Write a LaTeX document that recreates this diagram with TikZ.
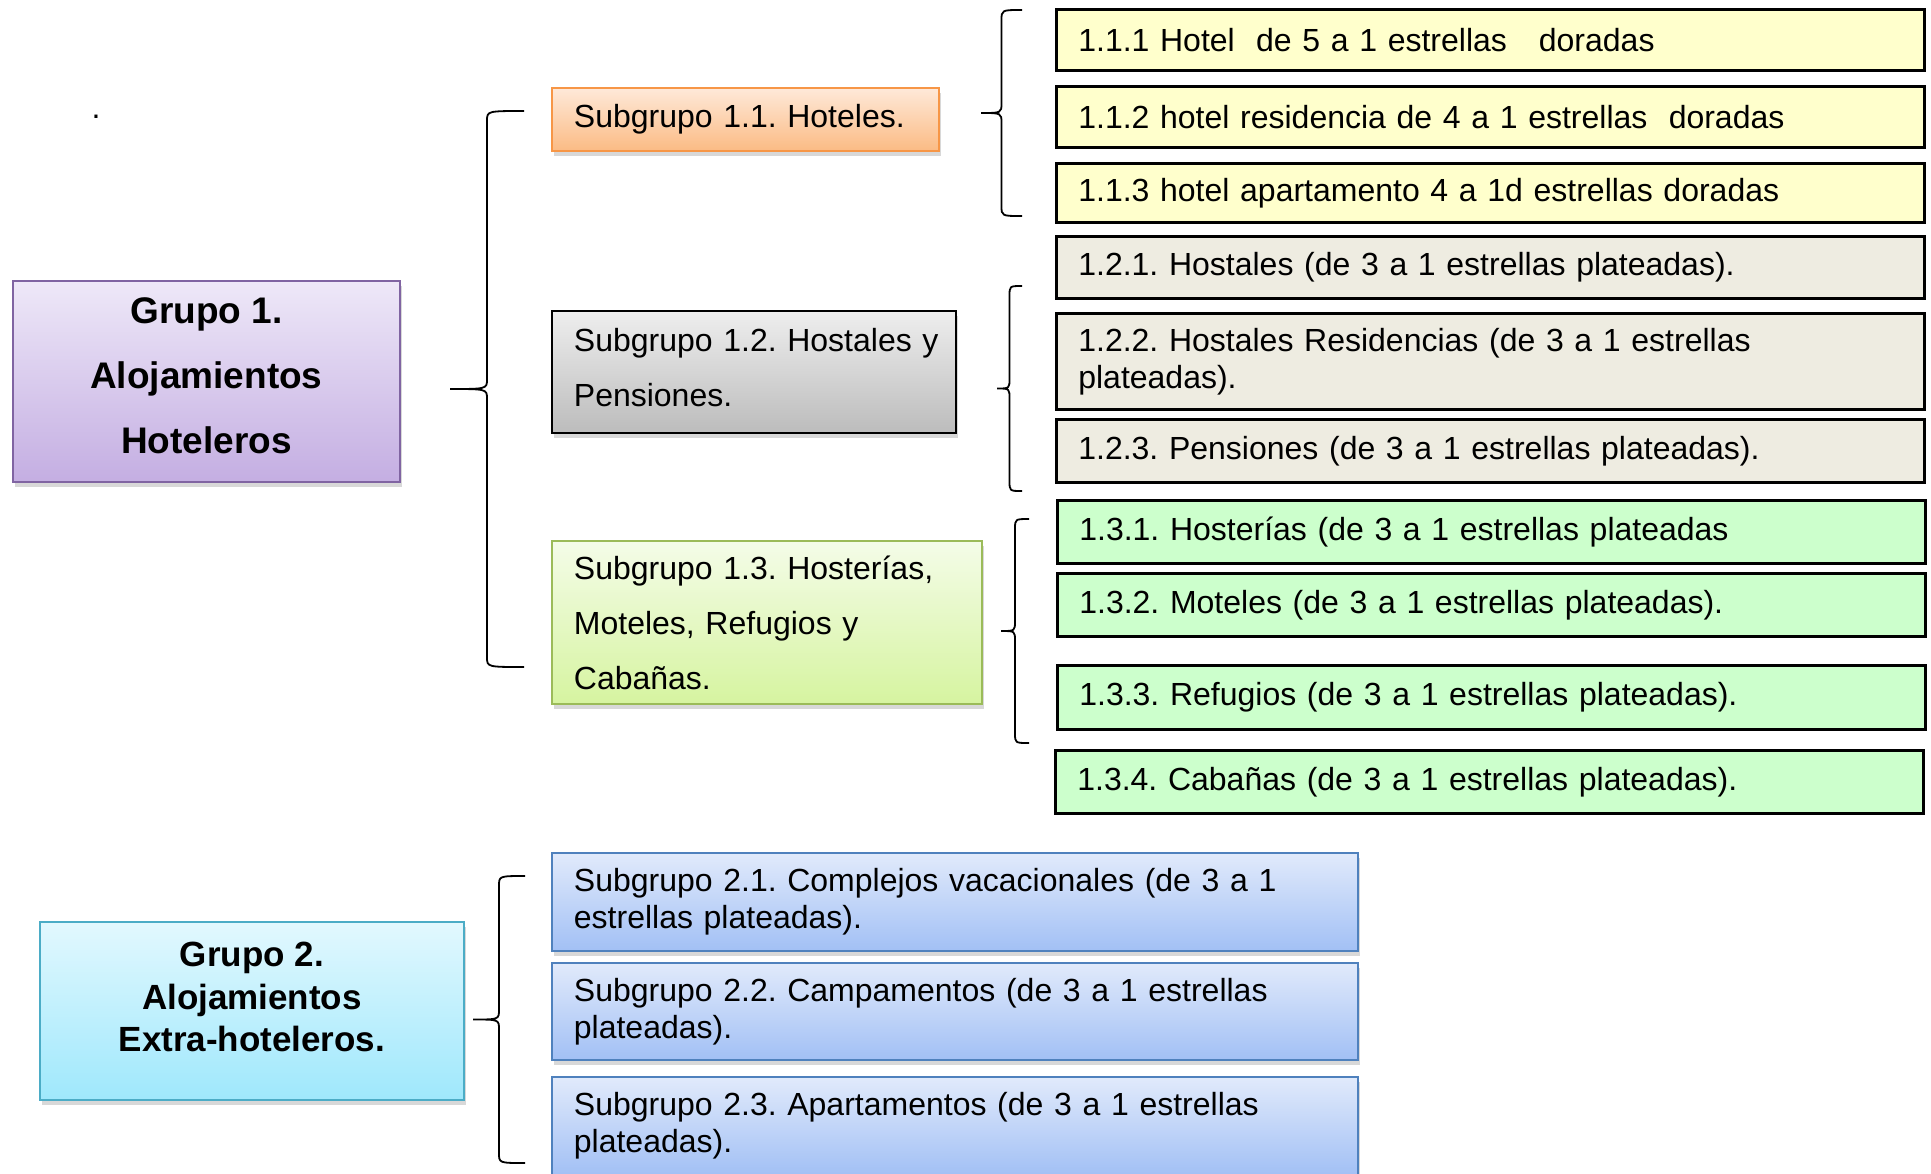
\documentclass[tikz,border=0pt]{standalone}
\usepackage{fontspec}
\setmainfont{Liberation Sans}
\frenchspacing
\usetikzlibrary{positioning,shadows,calc}

%colours
\definecolor{lilatop}{HTML}{EEE8F8}
\definecolor{lilabot}{HTML}{C4AEE2}
\definecolor{lilaline}{HTML}{8064A2}
\definecolor{naranjatop}{HTML}{FEE9D9}
\definecolor{naranjabot}{HTML}{FBBB84}
\definecolor{naranjaline}{HTML}{F79646}
\definecolor{gristop}{HTML}{EEEEEE}
\definecolor{grisbot}{HTML}{BCBCBC}
\definecolor{verdetop}{HTML}{F4FCE8}
\definecolor{verdebot}{HTML}{D6F4A0}
\definecolor{verdeline}{HTML}{9BBB59}
\definecolor{celestetop}{HTML}{E2F8FE}
\definecolor{celestebot}{HTML}{9FE8FC}
\definecolor{celesteline}{HTML}{4BACC6}
\definecolor{azultop}{HTML}{E1EAFB}
\definecolor{azulbot}{HTML}{A2C0F5}
\definecolor{azulline}{HTML}{4F81BD}
\definecolor{amarillo}{HTML}{FFFFCC}
\definecolor{beige}{HTML}{EEECE1}
\definecolor{verdeclaro}{HTML}{CCFFCC}

\tikzset{
    %Define style for group boxes
    grupo/.style={
           rectangle,
           anchor=north west,
           align=center,
           line width=0.9pt,
           font=\bfseries\fontsize{18.5}{32.5}\selectfont,
           drop shadow={shadow xshift=0.8pt, shadow yshift=-2.5pt, opacity=0.3}},
    %Define style for subgroup boxes
    subgrupo/.style={
           rectangle,
           anchor=north west,
           align=left,
           inner xsep=11pt,
           line width=0.9pt,
           font=\fontsize{16}{18.5}\selectfont,
           drop shadow={shadow xshift=0.8pt, shadow yshift=-2.5pt, opacity=0.3}},
    %Define style for the boxes on the right
    hoja/.style={
           rectangle,
           anchor=north west,
           align=left,
           draw=black,
           inner xsep=11pt,
           line width=1.3pt,
           text width=412pt,
           font=\fontsize{16}{18.5}\selectfont},
    % Define brace style (drawn from top end to bottom end, #1 = depth)
    llave/.style={
           line width=0.9pt,
           to path={let \p1=(\tikztostart), \p2=(\tikztotarget),
                    \p3=($(\tikztostart)!0.5!(\tikztotarget)$) in
                    .. controls ({\x1-#1/2},\y1) .. ({\x1-#1/2},{\y1-5pt})
                    -- ({\x1-#1/2},{\y3+5pt})
                    .. controls ({\x1-#1/2},\y3) .. ({\x1-#1},\y3)
                    .. controls ({\x1-#1/2},\y3) .. ({\x1-#1/2},{\y3-5pt})
                    -- ({\x1-#1/2},{\y2+5pt})
                    .. controls ({\x1-#1/2},\y2) .. (\tikztotarget)}}
}

\begin{document}
\begin{tikzpicture}[x=0.5pt, y=-0.5pt]
 \path[use as bounding box, fill=white] (0,0) rectangle (1931,1173);
 \clip (0,0) rectangle (1931,1173);
 %nodes
    \node[font=\fontsize{16}{18}\selectfont] (punto) at (96,117) {.};
    \node[grupo, draw=lilaline, top color=lilatop, bottom color=lilabot,
          minimum width=193.5pt, minimum height=100.5pt] (g1) at (12,280)
          {Grupo 1.\\Alojamientos\\Hoteleros\\[-26.5pt]\mbox{}};
    \node[grupo, draw=celesteline, top color=celestetop, bottom color=celestebot,
          font=\bfseries\fontsize{17.5}{21.3}\selectfont,
          minimum width=212pt, minimum height=89pt] (g2) at (39,921)
          {Grupo 2.\\Alojamientos\\Extra-hoteleros.\\[-7.3pt]\mbox{}};

    \node[subgrupo, draw=naranjaline, top color=naranjatop, bottom color=naranjabot,
          text width=171.5pt, minimum height=31.5pt] (s11) at (551,87)
          {Subgrupo 1.1. Hoteles.};
    \node[subgrupo, draw=black, top color=gristop, bottom color=grisbot,
          font=\fontsize{16}{27.5}\selectfont,
          text width=180pt, minimum height=61pt] (s12) at (551,310)
          {\mbox{Subgrupo 1.2. Hostales y}\\Pensiones.\\[-23pt]\mbox{}};
    \node[subgrupo, draw=verdeline, top color=verdetop, bottom color=verdebot,
          font=\fontsize{16}{27.5}\selectfont,
          text width=193pt, minimum height=81.5pt] (s13) at (551,540)
          {Subgrupo 1.3. Hosterías,\\Moteles, Refugios y\\Cabañas.};

    \node[hoja, fill=amarillo, minimum height=30.5pt] (h111) at (1055,8)
          {1.1.1 Hotel\ \ de 5 a 1 estrellas\ \ \ doradas};
    \node[hoja, fill=amarillo, minimum height=30.5pt] (h112) at (1055,85)
          {1.1.2 hotel residencia de 4 a 1 estrellas\ \ doradas};
    \node[hoja, fill=amarillo, minimum height=29.5pt] (h113) at (1055,162)
          {1.1.3 hotel apartamento 4 a 1d estrellas doradas};
    \node[hoja, fill=beige, minimum height=31pt] (h121) at (1055,235)
          {1.2.1. Hostales (de 3 a 1 estrellas plateadas).};
    \node[hoja, fill=beige, minimum height=48pt] (h122) at (1055,312)
          {1.2.2. Hostales Residencias (de 3 a 1 estrellas\\plateadas).};
    \node[hoja, fill=beige, minimum height=31.5pt] (h123) at (1055,418)
          {1.2.3. Pensiones (de 3 a 1 estrellas plateadas).};
    \node[hoja, fill=verdeclaro, minimum height=31.5pt] (h131) at (1056,499)
          {1.3.1. Hosterías (de 3 a 1 estrellas plateadas};
    \node[hoja, fill=verdeclaro, minimum height=31.5pt] (h132) at (1056,572)
          {1.3.2. Moteles (de 3 a 1 estrellas plateadas).};
    \node[hoja, fill=verdeclaro, minimum height=32pt] (h133) at (1056,664)
          {1.3.3. Refugios (de 3 a 1 estrellas plateadas).};
    \node[hoja, fill=verdeclaro, minimum height=31.5pt] (h134) at (1054,749)
          {1.3.4. Cabañas (de 3 a 1 estrellas plateadas).};

    \node[subgrupo, draw=azulline, top color=azultop, bottom color=azulbot,
          text width=381pt, minimum height=49pt] (s21) at (551,852)
          {Subgrupo 2.1. Complejos vacacionales (de 3 a 1\\estrellas plateadas).};
    \node[subgrupo, draw=azulline, top color=azultop, bottom color=azulbot,
          text width=381pt, minimum height=48.5pt] (s22) at (551,962)
          {Subgrupo 2.2. Campamentos (de 3 a 1 estrellas\\plateadas).};
    \node[subgrupo, draw=azulline, top color=azultop, bottom color=azulbot,
          text width=381pt, minimum height=49pt] (s23) at (551,1076)
          {Subgrupo 2.3. Apartamentos (de 3 a 1 estrellas\\plateadas).};
 %brace ends
    \coordinate (b1a) at (524,111);   \coordinate (b1b) at (524,667);
    \coordinate (b11a) at (1022,10);  \coordinate (b11b) at (1022,216);
    \coordinate (b12a) at (1022,286); \coordinate (b12b) at (1022,491);
    \coordinate (b13a) at (1029,519); \coordinate (b13b) at (1029,743);
    \coordinate (b2a) at (525,876);   \coordinate (b2b) at (525,1163);
 %braces
    \draw[llave=37pt] (b1a) to (b1b);
    \draw[llave=20.5pt] (b11a) to (b11b);
    \draw[llave=12.5pt] (b12a) to (b12b);
    \draw[llave=14pt] (b13a) to (b13b);
    \draw[llave=26pt] (b2a) to (b2b);
\end{tikzpicture}
\end{document}
